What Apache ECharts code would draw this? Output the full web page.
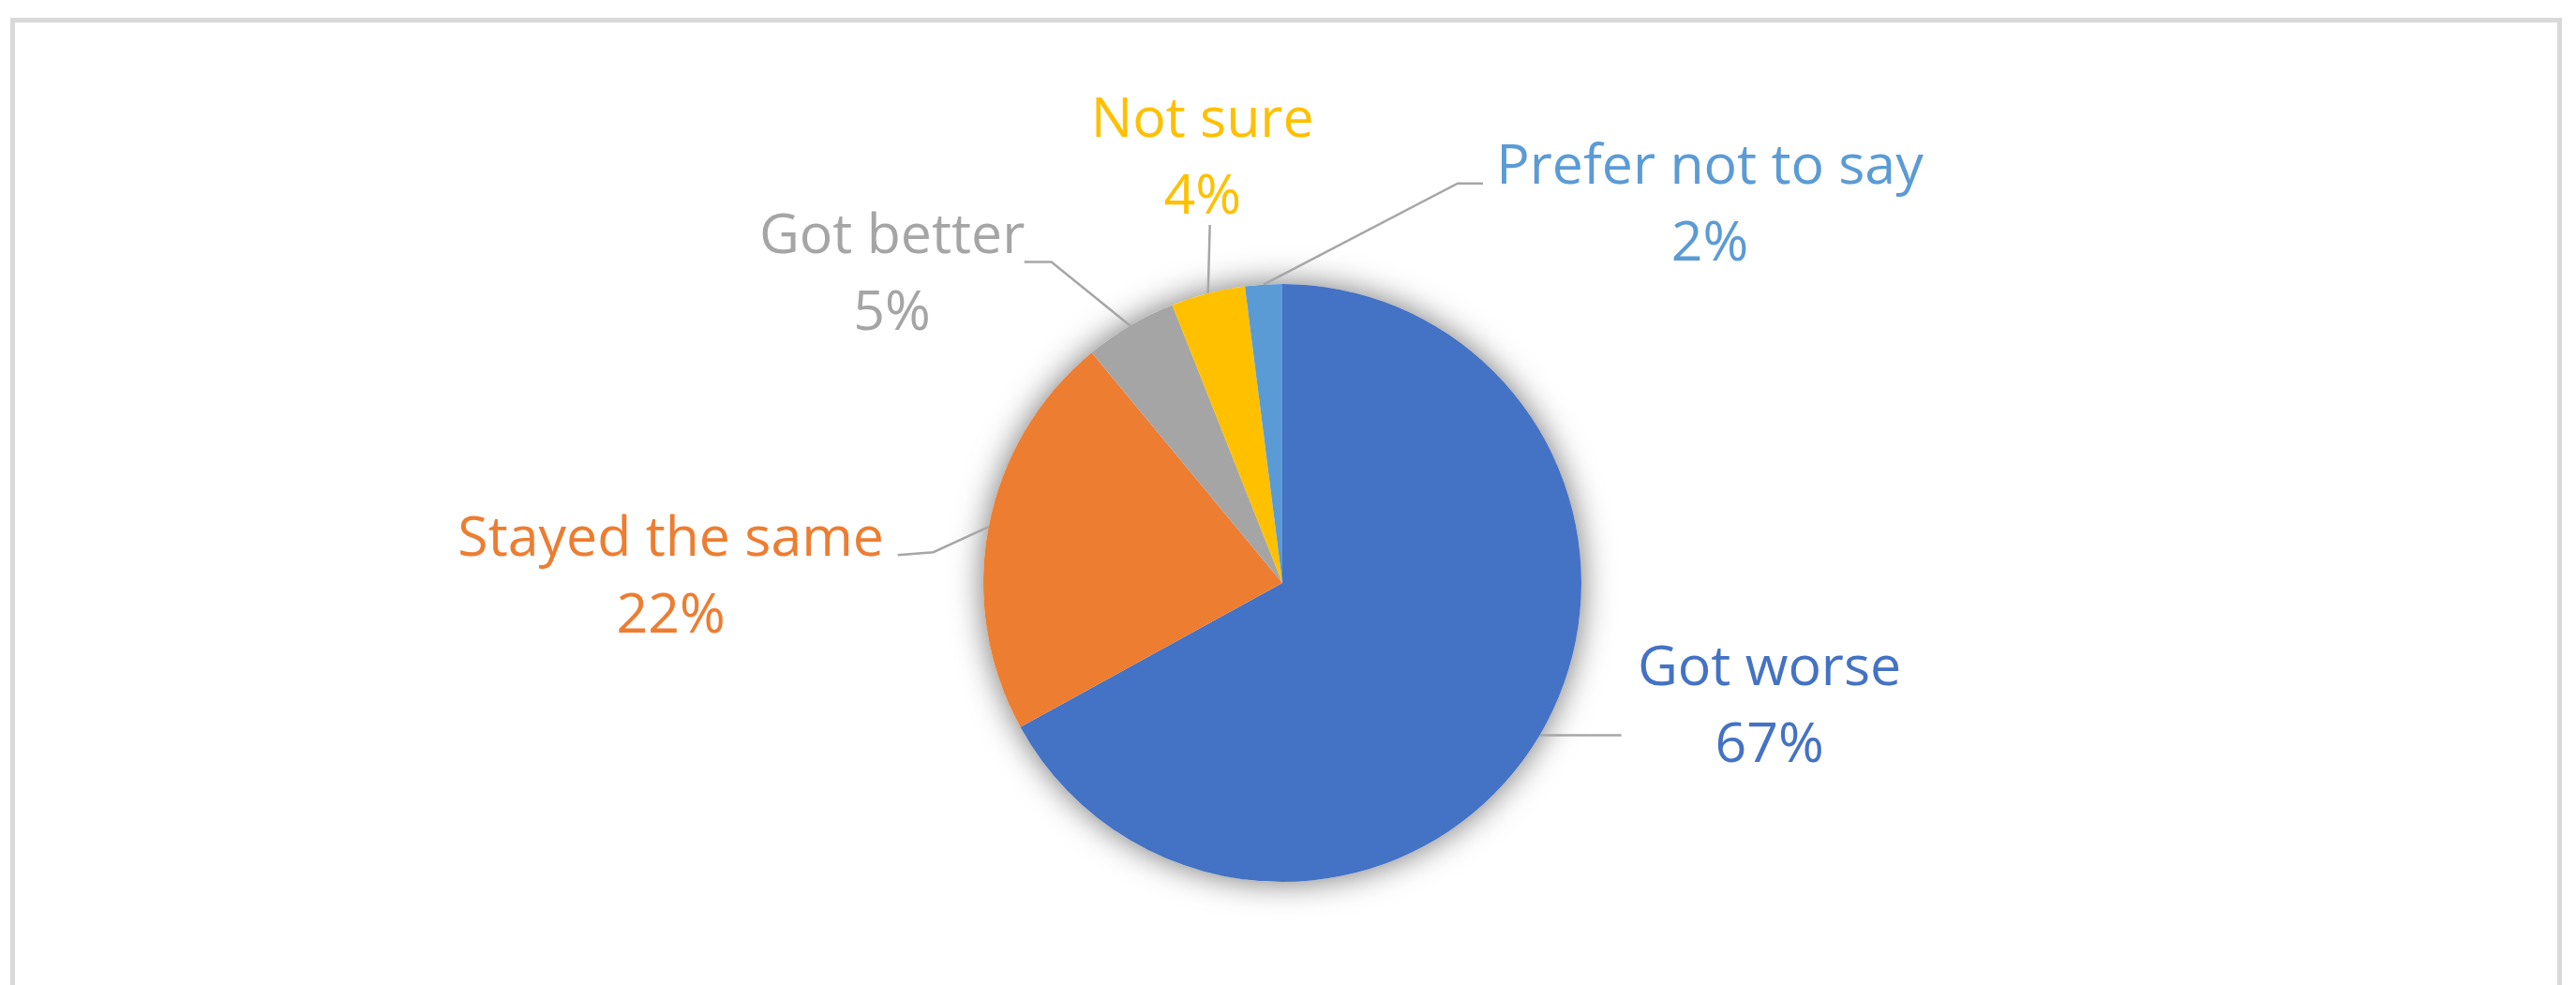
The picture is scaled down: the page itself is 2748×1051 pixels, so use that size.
<!DOCTYPE html>
<html>
<head>
<meta charset="utf-8">
<script src="https://cdn.jsdelivr.net/npm/echarts@6/dist/echarts.min.js"></script>
<style>
html,body{margin:0;padding:0;background:#fff;overflow:hidden;width:2748px;height:1051px}
#frame{position:absolute;left:11px;top:19px;width:2712px;height:1100px;border:5px solid #D9D9D9;border-bottom:none}
#chart{position:absolute;left:0;top:0;width:2748px;height:1051px}
</style>
</head>
<body>
<div id="frame"></div>
<div id="chart"></div>
<script>
// ---- data ----
const categories = ['Got worse', 'Stayed the same', 'Got better', 'Not sure', 'Prefer not to say'];
const values = [67, 22, 5, 4, 2];
const sliceColors = ['#4472C4', '#ED7D31', '#A5A5A5', '#FFC000', '#5B9BD5'];

// ---- label placement (offsets from each slice's edge point; styling only) ----
const labelPlacement = [
  { label: [245, -29],  line: [[0, 0], [87, 0]] },
  { label: [-339, 55],  line: [[-59, 27], [-97, 30]] },
  { label: [-254, -53], line: [[-84, -68], [-113, -68]] },
  { label: [-6, -143],  line: [[1, -36], [2, -73]] },
  { label: [476, -83],  line: [[207, -108], [234, -108]] }
];

const chart = echarts.init(document.getElementById('chart'), null, { renderer: 'canvas' });

const pieData = categories.map((name, i) => ({
  name: name,
  value: values[i],
  itemStyle: { color: sliceColors[i] },
  label: { color: sliceColors[i] }
}));

const option = {
  backgroundColor: 'transparent',
  animation: false,
  series: [
    {
      // soft drop shadow behind the pie (decorative)
      type: 'pie',
      silent: true,
      z: 1,
      center: [1368, 622],
      radius: 319,
      label: { show: false },
      labelLine: { show: false },
      emphasis: { disabled: true },
      tooltip: { show: false },
      itemStyle: { color: '#ffffff', shadowBlur: 34, shadowColor: 'rgba(0,0,0,0.55)' },
      data: [{ value: 1, name: '' }]
    },
    {
      type: 'pie',
      z: 2,
      center: [1368, 622],
      radius: 319,
      startAngle: 90,
      clockwise: true,
      avoidLabelOverlap: false,
      emphasis: { disabled: true },
      itemStyle: { borderWidth: 0 },
      label: {
        show: true,
        position: 'outside',
        formatter: '{b}\n{d}%',
        fontFamily: 'Open Sans',
        fontSize: 59,
        lineHeight: 82,
        align: 'center'
      },
      labelLine: {
        show: true,
        length: 20,
        length2: 20,
        lineStyle: { color: '#A6A6A6', width: 2.5 }
      },
      labelLayout: function (p) {
        const o = labelPlacement[p.dataIndex];
        const e = p.labelLinePoints[0];
        return {
          x: e[0] + o.label[0],
          y: e[1] + o.label[1],
          align: 'center',
          verticalAlign: 'middle',
          labelLinePoints: [
            [e[0], e[1]],
            [e[0] + o.line[0][0], e[1] + o.line[0][1]],
            [e[0] + o.line[1][0], e[1] + o.line[1][1]]
          ]
        };
      },
      data: pieData
    }
  ]
};

chart.setOption(option);
</script>
</body>
</html>
